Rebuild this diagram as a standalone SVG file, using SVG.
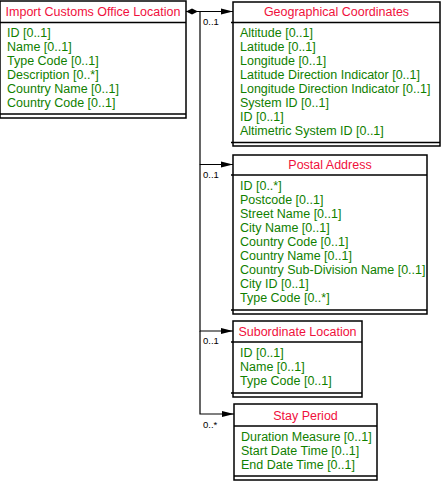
<svg xmlns="http://www.w3.org/2000/svg" width="442" height="494" viewBox="0 0 442 494">
<style>
.box{fill:#fff;stroke:#000;stroke-width:1.5}
.sep{stroke:#000;stroke-width:1.5;fill:none}
.title{font-family:"Liberation Sans",Arial,sans-serif;font-size:12.5px;fill:#f0103c;text-anchor:middle}
.attr{font-family:"Liberation Sans",Arial,sans-serif;font-size:12.5px;fill:#108000}
.lbl{font-family:"Liberation Sans",Arial,sans-serif;font-size:9.5px;fill:#000}
.con{stroke:#000;stroke-width:1.2;fill:none}
</style>
<defs>
<marker id="arr" markerWidth="13" markerHeight="8" refX="12" refY="4" orient="auto" markerUnits="userSpaceOnUse"><path d="M0,1 L12,4 L0,7 z" fill="#000"/></marker>
<marker id="dia" markerWidth="13" markerHeight="8" refX="0" refY="4" orient="auto" markerUnits="userSpaceOnUse"><path d="M0,4 L6,1 L12,4 L6,7 z" fill="#000"/></marker>
</defs>
<rect width="442" height="494" fill="#fff"/>
<g id="connectors">
<path class="con" d="M186,11.5 H233" marker-start="url(#dia)" marker-end="url(#arr)"/>
<path class="con" d="M200,11.5 V164.5 H233" marker-end="url(#arr)"/>
<path class="con" d="M200,164.5 V331 H233" marker-end="url(#arr)"/>
<path class="con" d="M200,331 V414 H234" marker-end="url(#arr)"/>
<text class="lbl" x="203" y="25">0..1</text>
<text class="lbl" x="203" y="177.5">0..1</text>
<text class="lbl" x="203" y="344">0..1</text>
<text class="lbl" x="203" y="428">0..*</text>
</g>
<g id="import-customs-office-location">
<rect class="box" x="0" y="1" width="186" height="117"/>
<path class="sep" d="M0,22.5 H186 M0,114 H186"/>
<text class="title" x="93" y="16">Import Customs Office Location</text>
<text class="attr" x="7" y="37">ID [0..1]</text>
<text class="attr" x="7" y="51">Name [0..1]</text>
<text class="attr" x="7" y="65">Type Code [0..1]</text>
<text class="attr" x="7" y="79">Description [0..*]</text>
<text class="attr" x="7" y="93">Country Name [0..1]</text>
<text class="attr" x="7" y="107">Country Code [0..1]</text>
</g>
<g id="geographical-coordinates">
<rect class="box" x="233" y="2" width="207" height="144"/>
<path class="sep" d="M231,22.5 H440 M231,142.5 H440"/>
<text class="title" x="336.5" y="16">Geographical Coordinates</text>
<text class="attr" x="240" y="37">Altitude [0..1]</text>
<text class="attr" x="240" y="51">Latitude [0..1]</text>
<text class="attr" x="240" y="65">Longitude [0..1]</text>
<text class="attr" x="240" y="79">Latitude Direction Indicator [0..1]</text>
<text class="attr" x="240" y="93">Longitude Direction Indicator [0..1]</text>
<text class="attr" x="240" y="107">System ID [0..1]</text>
<text class="attr" x="240" y="121">ID [0..1]</text>
<text class="attr" x="240" y="135">Altimetric System ID [0..1]</text>
</g>
<g id="postal-address">
<rect class="box" x="233" y="155" width="194" height="159"/>
<path class="sep" d="M231,175 H427 M231,310 H427"/>
<text class="title" x="330" y="169">Postal Address</text>
<text class="attr" x="240" y="190">ID [0..*]</text>
<text class="attr" x="240" y="204">Postcode [0..1]</text>
<text class="attr" x="240" y="218">Street Name [0..1]</text>
<text class="attr" x="240" y="232">City Name [0..1]</text>
<text class="attr" x="240" y="246">Country Code [0..1]</text>
<text class="attr" x="240" y="260">Country Name [0..1]</text>
<text class="attr" x="240" y="274">Country Sub-Division Name [0..1]</text>
<text class="attr" x="240" y="288">City ID [0..1]</text>
<text class="attr" x="240" y="302">Type Code [0..*]</text>
</g>
<g id="subordinate-location">
<rect class="box" x="233" y="321" width="129" height="76"/>
<path class="sep" d="M231,342 H362 M231,393 H362"/>
<text class="title" x="297.5" y="336">Subordinate Location</text>
<text class="attr" x="240" y="357">ID [0..1]</text>
<text class="attr" x="240" y="371">Name [0..1]</text>
<text class="attr" x="240" y="385">Type Code [0..1]</text>
</g>
<g id="stay-period">
<rect class="box" x="234" y="404" width="143" height="76"/>
<path class="sep" d="M234,426 H377 M234,476 H377"/>
<text class="title" x="305.5" y="420">Stay Period</text>
<text class="attr" x="241" y="441">Duration Measure [0..1]</text>
<text class="attr" x="241" y="455">Start Date Time [0..1]</text>
<text class="attr" x="241" y="469">End Date Time [0..1]</text>
</g>
</svg>
